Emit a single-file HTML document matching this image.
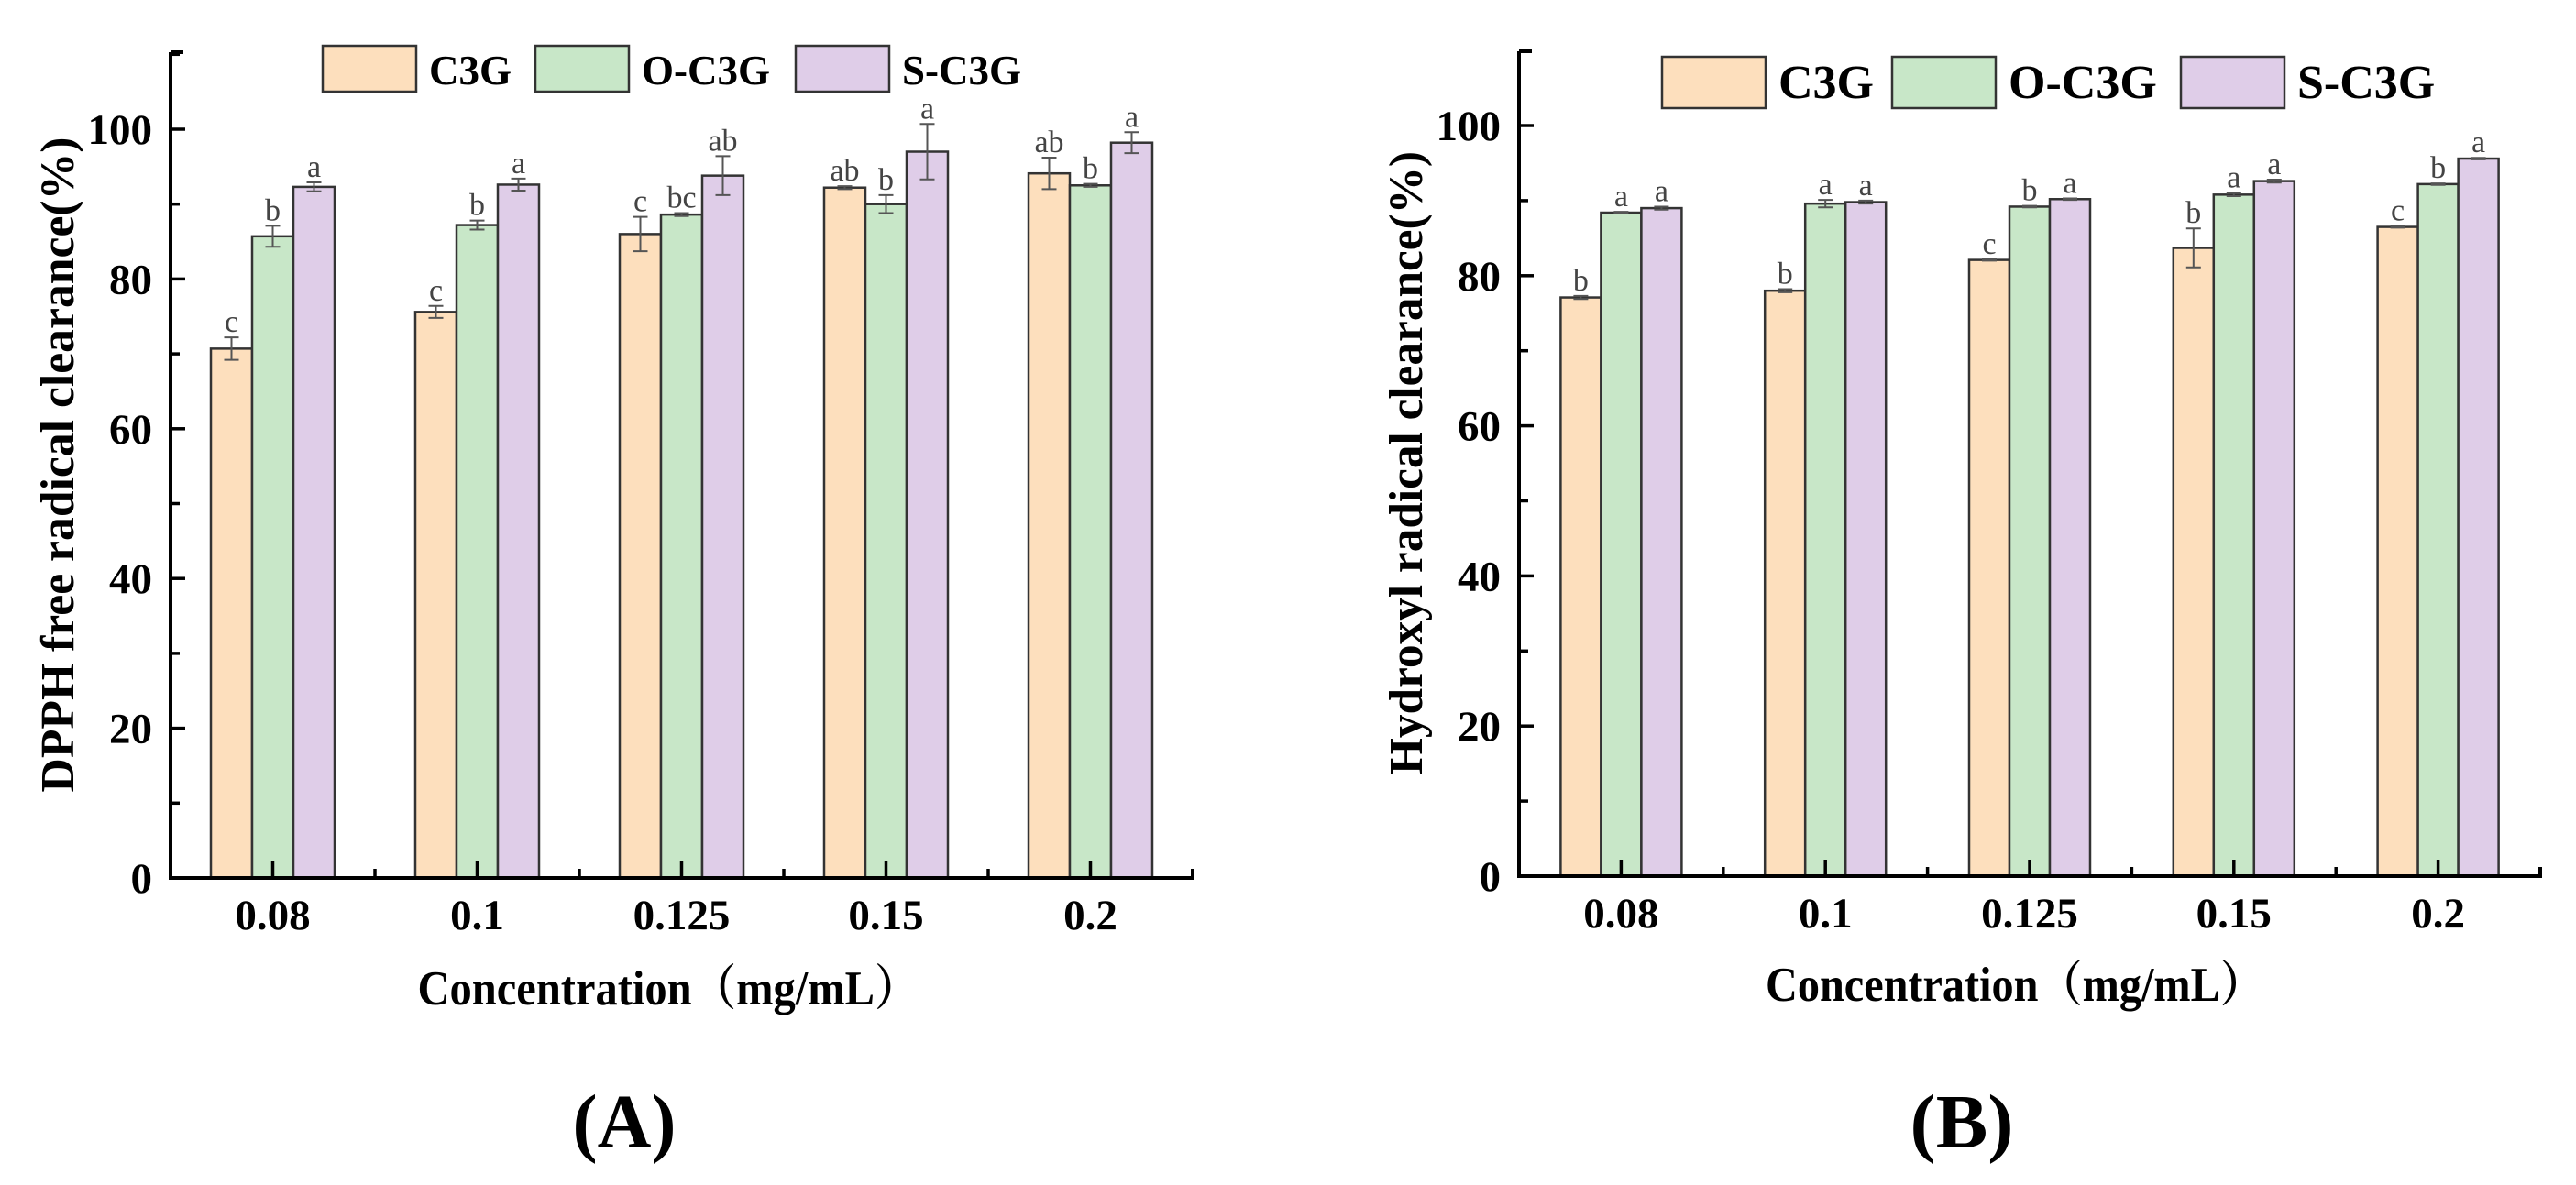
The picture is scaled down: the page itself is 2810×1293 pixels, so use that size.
<!DOCTYPE html>
<html><head><meta charset="utf-8"><style>
html,body{margin:0;padding:0;background:#fff;}
svg{display:block;font-family:"Liberation Serif","Noto Serif CJK SC",serif;}
</style></head><body>
<svg id="fig" width="2810" height="1293" viewBox="0 0 2810 1293" xmlns="http://www.w3.org/2000/svg">
<rect width="2810" height="1293" fill="#fff"/>
</svg>
<script>
const categories = ['0.08','0.1','0.125','0.15','0.2'];
const seriesNames = ['C3G','O-C3G','S-C3G'];
const yTicks = [0,20,40,60,80,100];
const dpphC3G = [70.7,75.6,86.0,92.2,94.1];
const dpphO = [85.7,87.2,88.6,90.0,92.5];
const dpphS = [92.3,92.6,93.8,97.0,98.2];
const dpphErrC3G = [1.5,0.8,2.3,0.2,2.1];
const dpphErrO = [1.4,0.6,0.2,1.2,0.2];
const dpphErrS = [0.6,0.8,2.6,3.7,1.4];
const dpphLetC3G = ['c','c','c','ab','ab'];
const dpphLetO = ['b','b','bc','b','b'];
const dpphLetS = ['a','a','ab','a','a'];
const ohC3G = [77.1,78.0,82.1,83.7,86.5];
const ohO = [88.4,89.6,89.2,90.8,92.2];
const ohS = [89.0,89.8,90.2,92.6,95.6];
const ohErrC3G = [0.2,0.2,0.1,2.6,0.1];
const ohErrO = [0.1,0.5,0.1,0.2,0.1];
const ohErrS = [0.2,0.2,0.1,0.2,0.1];
const ohLetC3G = ['b','b','c','b','c'];
const ohLetO = ['a','a','b','a','b'];
const ohLetS = ['a','a','a','a','a'];

const colors = ['#FDDFBD','#C8E7C8','#DFCDE8'];
const NS='http://www.w3.org/2000/svg';
const svg=document.getElementById('fig');
function mk(tag,attrs,parent,text){const e=document.createElementNS(NS,tag);for(const k in attrs)e.setAttribute(k,attrs[k]);if(text!==undefined)e.textContent=text;(parent||svg).appendChild(e);return e;}

function panel(cfg){
  const g=mk('g',{});
  
  
  const yS=v=>cfg.y0-(v/100)*(cfg.y0-cfg.y100);
  const gw=(cfg.x1-cfg.x0)/categories.length;
  const cx=i=>cfg.x0+gw*(i+0.5);
  const bw=cfg.bw;
  cfg.vals.forEach((arr,s)=>{
    arr.forEach((v,i)=>{
      const x=cx(i)+(s-1.5)*bw;
      const r=mk('rect',{x:x,y:yS(v),width:bw,height:yS(0)-yS(v),fill:colors[s],stroke:'#333',"stroke-width":2.5},g);
      
      
      const e=cfg.errs[s][i];const xm=x+bw/2;
      const eg=mk('path',{d:`M${xm-8},${yS(v+e)}H${xm+8}M${xm},${yS(v+e)}V${yS(v-e)}M${xm-8},${yS(v-e)}H${xm+8}`,stroke:'#555',"stroke-width":2,fill:'none'},g);
      
      
      const t=mk('text',{x:xm,y:yS(v+e)-6,"text-anchor":'middle',"font-size":34,fill:'#444'},g,cfg.lets[s][i]);
      
      
    });
  });
  const ax=mk('path',{d:`M${cfg.x0},${cfg.top}V${cfg.y0}H${cfg.x1}V${cfg.y0-10}`,stroke:'#000',"stroke-width":4,fill:'none'},g);
  
  
  mk('path',{d:`M${cfg.x0},${cfg.top}H${cfg.x0+14}`,stroke:'#000',"stroke-width":4},g);
  for(let v=0;v<=110;v+=10){
    const major=v%20===0;
    mk('path',{d:`M${cfg.x0},${yS(v)}H${cfg.x0+(major?16:10)}`,stroke:'#000',"stroke-width":3.5},g);
  }
  yTicks.forEach(v=>{
    const t=mk('text',{x:cfg.x0-20,y:yS(v)+16,"text-anchor":'end',"font-size":47,"font-weight":'bold'},g,String(v));
    
    
  });
  categories.forEach((c,i)=>{
    mk('path',{d:`M${cx(i)},${cfg.y0}V${cfg.y0-18}`,stroke:'#000',"stroke-width":3.5},g);
    if(i>0) mk('path',{d:`M${cfg.x0+gw*i},${cfg.y0}V${cfg.y0-10}`,stroke:'#000',"stroke-width":3.5},g);
    const t=mk('text',{x:cx(i),y:cfg.y0+56,"text-anchor":'middle',"font-size":47,"font-weight":'bold'},g,c);
    
    
  });
  const yt=mk('text',{x:0,y:0,transform:`translate(${cfg.ytx},${cfg.yty}) rotate(-90)`,"text-anchor":'middle',"font-size":cfg.ytfs,"font-weight":'bold',textLength:cfg.ytlen,lengthAdjust:'spacingAndGlyphs'},g,cfg.ytitle);
  
  
  const xt=mk('text',{x:cfg.xtx,y:cfg.xty,"text-anchor":'middle',"font-size":53,"font-weight":'bold',textLength:cfg.xtlen,lengthAdjust:'spacingAndGlyphs'},g,'Concentration（mg/mL）');
  
  
  cfg.leg.forEach((lx,s)=>{
    const r=mk('rect',{x:lx,y:cfg.legY,width:cfg.legW,height:cfg.legH,fill:colors[s],stroke:'#333',"stroke-width":2.5},g);
    
    
    const t=mk('text',{x:lx+cfg.legW+14,y:cfg.legBase,"font-size":cfg.legFs,"font-weight":'bold'},g,seriesNames[s]);
    
    
  });
  const pl=mk('text',{x:cfg.plx,y:1252,"text-anchor":'middle',"font-size":84,"font-weight":'bold',textLength:113,lengthAdjust:'spacingAndGlyphs'},g,cfg.plabel);
  
  
}
panel({name:'panel-a-dpph',x0:186,x1:1301,y0:958,y100:141,top:57,bw:45,
  vals:[dpphC3G,dpphO,dpphS],errs:[dpphErrC3G,dpphErrO,dpphErrS],lets:[dpphLetC3G,dpphLetO,dpphLetS],
  ytitle:'DPPH free radical clearance(%)',ytx:80,yty:507,ytfs:52,ytlen:715,
  xtx:729,xty:1096,xtlen:547,leg:[352,584,868],legY:50,legW:102,legH:50,legBase:92,legFs:45,plx:681,plabel:'(A)'});
panel({name:'panel-b-hydroxyl',x0:1657,x1:2771,y0:956,y100:137,top:56,bw:44,
  vals:[ohC3G,ohO,ohS],errs:[ohErrC3G,ohErrO,ohErrS],lets:[ohLetC3G,ohLetO,ohLetS],
  ytitle:'Hydroxyl radical clearance(%)',ytx:1551,yty:505,ytfs:52,ytlen:680,
  xtx:2198,xty:1092,xtlen:544,leg:[1813,2064,2379],legY:62,legW:113,legH:56,legBase:107,legFs:52,plx:2140,plabel:'(B)'});
</script>
</body></html>
